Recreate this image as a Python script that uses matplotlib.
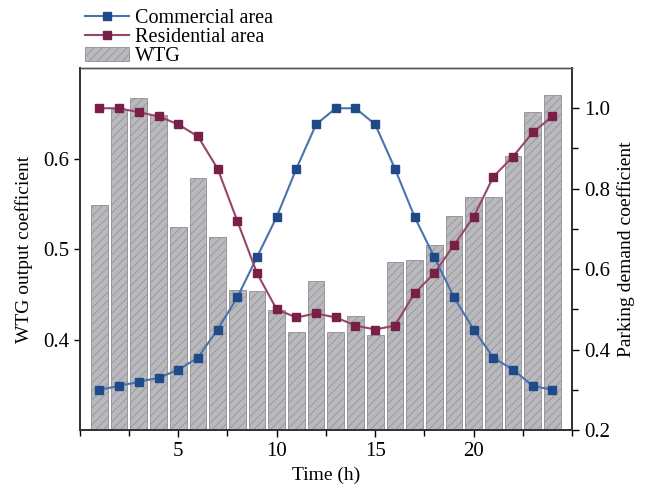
import numpy as np
import matplotlib
matplotlib.use('Agg')
import matplotlib.pyplot as plt

plt.rcParams['font.family'] = ['Liberation Serif', 'DejaVu Serif']
plt.rcParams['hatch.linewidth'] = 0.5
plt.rcParams['hatch.color'] = '#7a7a7a'

hours = np.arange(1, 25)

# wind turbine output, left axis
wtg = [0.549, 0.655, 0.667, 0.648, 0.524, 0.578, 0.513, 0.455,
       0.454, 0.433, 0.408, 0.465, 0.408, 0.426, 0.405, 0.486,
       0.488, 0.504, 0.537, 0.557, 0.557, 0.603, 0.651, 0.670]

# parking demand, right axis
commercial = [0.30, 0.31, 0.32, 0.33, 0.35, 0.38, 0.45, 0.53,
              0.63, 0.73, 0.85, 0.96, 1.00, 1.00, 0.96, 0.85,
              0.73, 0.63, 0.53, 0.45, 0.38, 0.35, 0.31, 0.30]
residential = [1.00, 1.00, 0.99, 0.98, 0.96, 0.93, 0.85, 0.72,
               0.59, 0.50, 0.48, 0.49, 0.48, 0.46, 0.45, 0.46,
               0.54, 0.59, 0.66, 0.73, 0.83, 0.88, 0.94, 0.98]

fig = plt.figure(figsize=(6.48, 4.86), dpi=100)
ax = fig.add_axes([0.123, 0.115, 0.76, 0.745])
ax2 = ax.twinx()

bars = ax.bar(hours, wtg, width=0.85, bottom=0, color='#b9b9bd',
              edgecolor='#8e8e92', linewidth=0.6, hatch='////',
              label='WTG')
ax.set_xlim(0, 25)
ax.set_ylim(0.3, 0.7)
ax.set_yticks([0.4, 0.5, 0.6])
ax.set_xticks([5, 10, 15, 20])
ax.set_xticks(np.arange(0, 25.1, 2.5), minor=True)
ax.tick_params(axis='x', which='major', direction='out', length=5,
               labelsize=15, width=1)
ax.tick_params(axis='x', which='minor', direction='out', length=4, width=1)
ax.tick_params(axis='y', direction='out', length=4, labelsize=15, width=1)
ax.set_xlabel('Time (h)', fontsize=14, labelpad=4)
ax.set_ylabel('WTG output coefficient', fontsize=14, labelpad=7)

l1, = ax2.plot(hours, commercial, color='#4a72ad', lw=1.5, marker='s',
               ms=6, mfc='#1f4a8a', mec='#1f4a8a', label='Commercial area')
l2, = ax2.plot(hours, residential, color='#96466a', lw=1.5, marker='s',
               ms=6, mfc='#7a1f47', mec='#7a1f47', label='Residential area')
ax2.set_ylim(0.2, 1.1)
ax2.set_yticks([0.2, 0.4, 0.6, 0.8, 1.0])
ax2.set_yticks(np.arange(0.3, 1.01, 0.2), minor=True)
ax2.tick_params(axis='y', which='major', direction='out', length=5,
                labelsize=15, width=1)
ax2.tick_params(axis='y', which='minor', direction='out', length=4, width=1)
ax2.set_ylabel('Parking demand coefficient', fontsize=14, labelpad=5)

for a in (ax, ax2):
    for side in ('left', 'right', 'bottom'):
        a.spines[side].set_color('#333333')
        a.spines[side].set_linewidth(1.3)
    a.spines['top'].set_color('#555555')
    a.spines['top'].set_linewidth(1.0)

fig.legend(handles=[l1, l2, bars], loc='upper left',
           bbox_to_anchor=(0.125, 0.99), frameon=False, fontsize=14.5,
           handlelength=2.2, handletextpad=0.3, labelspacing=0.0,
           borderaxespad=0.0, borderpad=0.2)

fig.savefig('out.png', dpi=100)
